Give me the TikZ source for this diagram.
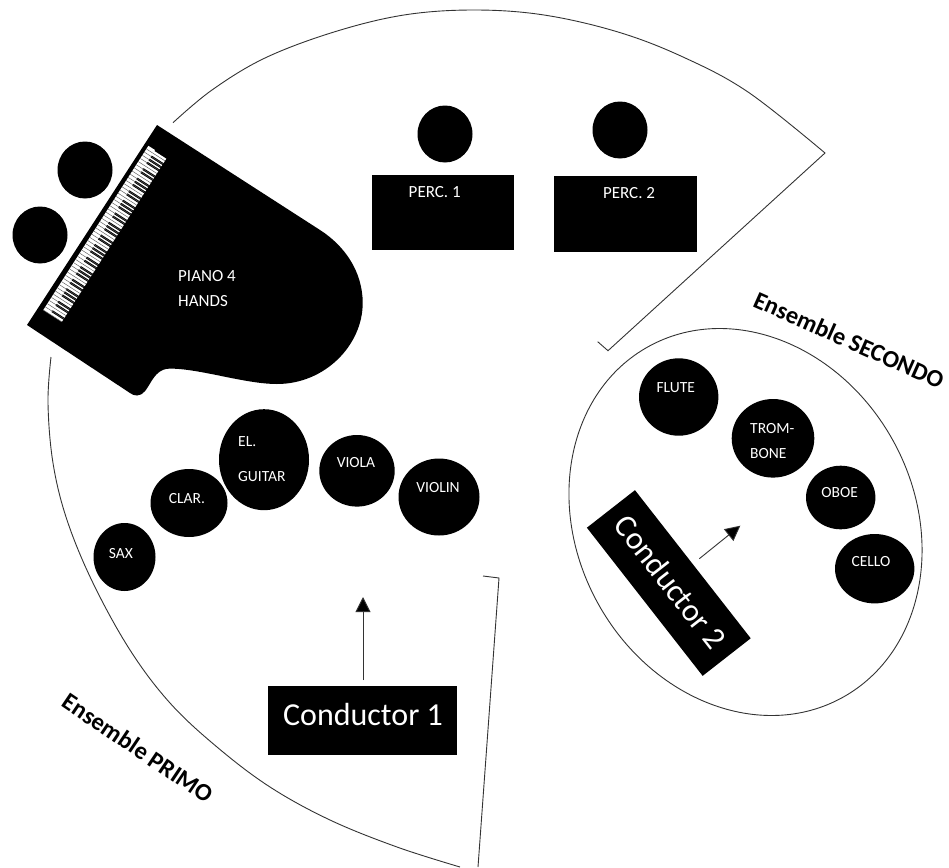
\documentclass[tikz,border=0pt]{standalone}
\usepackage{fontspec}
\setmainfont{Carlito}
\usetikzlibrary{shapes.geometric,arrows.meta}
\tikzset{
  seat/.style={ellipse,fill=black,draw=none,inner sep=0pt},
  lbl/.style={text=white,font=\fontsize{15.5}{17}\selectfont,inner sep=0pt,anchor=center},
  biglbl/.style={text=white,font=\fontsize{17}{18}\selectfont,inner sep=0pt},
  blockbox/.style={fill=black,draw=none,inner sep=0pt},
  edgeline/.style={draw=black!80,line width=0.9pt,line join=miter},
  pointer/.style={draw=black!80,line width=0.9pt,-{Triangle[length=15pt,width=15pt,fill=black]},shorten >=0pt},
  title/.style={font=\bfseries\fontsize{24.5}{26}\selectfont,inner sep=0pt}
}
\begin{document}
\begin{tikzpicture}[x=1pt,y=-1pt]
\useasboundingbox (0,0) rectangle (949,867);
% stage outline
\draw[edgeline] plot[smooth,tension=0.6] coordinates {(173,122.7)(212,90)(265,58)(334,32)(404,15)(474,10)(544,15)(618,32)(683,57)(748,92)(825,153)} -- (608,350.7) -- (597.7,341.7);
\draw[edgeline] plot[smooth,tension=0.6] coordinates {(51,357)(48,403)(53,463)(67,520)(93,583)(130,650)(170,703)(217,747)(270,787)(330,820)(397,847)(460,867)};
\draw[edgeline] (478,867) -- (499,578) -- (483,576);
% piano
\fill[black] (157,125) -- (320,230) .. controls (345,246) and (362.7,272) .. (362.7,303) .. controls (362.7,345) and (325,384) .. (277,384) .. controls (245,384) and (200,368.6) .. (170,368.6) .. controls (150,368.6) and (150,395.5) .. (137,395.5) .. controls (134,395.5) and (132,394.5) .. (130,393) -- (27,325) -- cycle;
\begin{scope}[shift={(43.3,310)},x={(0.539pt,0.842pt)},y={(0.842pt,-0.539pt)}]
  \fill[white] (0,0) -- (195,0) -- (195,22) -- (0,22) -- cycle;
  \foreach \k in {0,...,51}{
    \draw[black!65,line width=0.45pt] ({\k*3.75},0) -- ({\k*3.75},22);
    \pgfmathtruncatemacro{\nn}{mod(\k,7)}
    \ifnum\nn=1\relax\else\ifnum\nn=4\relax\else
      \fill[black] ({\k*3.75+2.7},8) -- ({\k*3.75+4.8},8) -- ({\k*3.75+4.8},22.5) -- ({\k*3.75+2.7},22.5) -- cycle;
    \fi\fi
  }
\end{scope}
\node[seat,minimum width=55pt,minimum height=57pt] (p1) at (85,170) {};
\node[seat,minimum width=55pt,minimum height=57pt] (p2) at (40,235) {};
\node[biglbl,anchor=west] (pianoa) at (178,275.7) {PIANO 4};
\node[biglbl,anchor=west] (pianob) at (178,300.7) {HANDS};
% percussion
\node[seat,minimum width=55pt,minimum height=57pt] (h1) at (445,134) {};
\node[seat,minimum width=55pt,minimum height=57pt] (h2) at (620,130) {};
\node[blockbox,minimum width=142pt,minimum height=75pt] (b1) at (443,212.5) {};
\node[blockbox,minimum width=142.5pt,minimum height=75.7pt] (b2) at (625.3,213.8) {};
\node[biglbl] (t1) at (434.7,192) {PERC. 1};
\node[biglbl] (t2) at (629,193.3) {PERC. 2};
% ensemble primo
\node[seat,minimum width=62pt,minimum height=68pt] (sax) at (124.5,557) {};
\node[lbl] at (121,554) {SAX};
\node[seat,minimum width=77pt,minimum height=68pt] (clar) at (189,503) {};
\node[lbl] at (187,499) {CLAR.};
\node[seat,minimum width=90pt,minimum height=101pt] (gtr) at (264,459.7) {};
\node[lbl,anchor=west] at (238,442) {EL.};
\node[lbl,anchor=west] at (238,477) {GUITAR};
\node[seat,minimum width=75.4pt,minimum height=71.6pt] (vla) at (357,470.8) {};
\node[lbl] at (356,463) {VIOLA};
\node[seat,minimum width=81pt,minimum height=77pt] (vln) at (439,497) {};
\node[lbl] at (438,488) {VIOLIN};
\node[blockbox,minimum width=189pt,minimum height=69pt] (c1) at (362.5,720.5) {};
\node[text=white,font=\fontsize{32}{34}\selectfont,inner sep=0pt] (c1t) at (363,714) {Conductor 1};
\coordinate (a1s) at (363,680);
\coordinate (a1e) at (363,597);
\draw[pointer] (a1s) -- (a1e);
\node[title,rotate=-34] (primo) at (138,748) {Ensemble PRIMO};
% ensemble secondo
\node[ellipse,draw=black!80,line width=0.9pt,fill=none,inner sep=0pt,minimum width=401pt,minimum height=337pt,rotate=-61] (ens2) at (745.5,522) {};
\node[seat,minimum width=79.4pt,minimum height=77.4pt] (fl) at (678.7,397) {};
\node[lbl] at (675.7,388) {FLUTE};
\node[seat,minimum width=82.6pt,minimum height=78.6pt] (tb) at (773,438.3) {};
\node[lbl,anchor=west] at (750,428.7) {TROM-};
\node[lbl,anchor=west] at (750,454) {BONE};
\node[seat,minimum width=69.4pt,minimum height=63.6pt] (ob) at (840.7,497.5) {};
\node[lbl] at (839.7,492.7) {OBOE};
\node[seat,minimum width=79.4pt,minimum height=69.4pt] (vc) at (874.7,568.7) {};
\node[lbl] at (871,562) {CELLO};
\node[blockbox,minimum width=188pt,minimum height=61pt,rotate=-52] (c2) at (668.8,583) {};
\node[text=white,font=\fontsize{32}{34}\selectfont,inner sep=0pt,rotate=-52] (c2t) at (670.5,582) {Conductor 2};
\coordinate (a2s) at (699.3,558.7);
\coordinate (a2e) at (740.3,525.7);
\draw[pointer] (a2s) -- (a2e);
\node[title,rotate=-24] (sec) at (849,340) {Ensemble SECONDO};
\end{tikzpicture}
\end{document}
